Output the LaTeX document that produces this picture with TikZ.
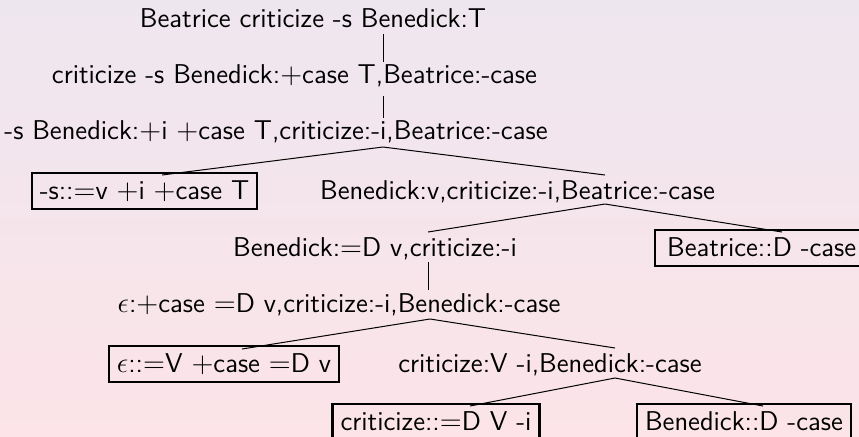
\documentclass[tikz,border=0pt]{standalone}
\usepackage{tikz}
\usepackage{xcolor}
\definecolor{bgtop}{HTML}{EEE6EF}
\definecolor{bgbot}{HTML}{FCE4E8}
% one unit is one pixel of the sheet, y runs downwards
\newcommand{\feat}[1]{$#1$}

\begin{document}
\begin{tikzpicture}[x=0.5pt,y=-0.5pt,
    every node/.style={font=\sffamily\fontsize{13.6}{16}\selectfont,anchor=base,inner sep=0pt},
    lex/.style={draw,line width=1.1pt,inner xsep=4pt,inner ysep=0pt,text height=13pt,text depth=5pt},
    branch/.style={line width=.5pt}]
  \useasboundingbox (0,0) rectangle (859,436);
  \shade [top color=bgtop,bottom color=bgbot] (0,0) rectangle (859,436);
  \clip (0,0) rectangle (859,436);

  % derived items, one row per step
  \node (T) at (313,27) {Beatrice criticize -s Benedick:T};
  \node (caseT) at (294.5,83) {criticize -s Benedick:\feat{+}case T,Beatrice:-case};
  \node (iT) at (276,139) {-s Benedick:\feat{+}i \feat{+}case T,criticize:-i,Beatrice:-case};
  \node[lex] (s) at (144.5,199) {-s::\feat{=}v \feat{+}i \feat{+}case T};
  \node (v) at (517.5,199) {Benedick:v,criticize:-i,Beatrice:-case};
  \node (Dv) at (375,256) {Benedick:\feat{=}D v,criticize:-i};
  \node[lex,anchor=base west,inner xsep=6pt] (Bea) at (654,256) {Beatrice::D -case};
  \node (caseDv) at (339,312) {\feat{\epsilon}:\feat{+}case \feat{=}D v,criticize:-i,Benedick:-case};
  \node[lex] (eps) at (224,372) {\feat{\epsilon}::\feat{=}V \feat{+}case \feat{=}D v};
  \node (V) at (550,372) {criticize:V -i,Benedick:-case};
  \node[lex] (crit) at (436,430) {criticize::\feat{=}D V -i};
  \node[lex] (Ben) at (744,430) {Benedick::D -case};

  % where the branches leave and meet the items
  \coordinate (T-dn) at (383,34);
  \coordinate (caseT-up) at (383,62);
  \coordinate (caseT-dn) at (383,96);
  \coordinate (iT-up) at (383,118);
  \coordinate (iT-dn) at (383,147);
  \coordinate (s-up) at (162,175);
  \coordinate (v-up) at (605,175);
  \coordinate (v-dn) at (605,204);
  \coordinate (Dv-up) at (428,232);
  \coordinate (Bea-up) at (782,232);
  \coordinate (Dv-dn) at (428,262);
  \coordinate (caseDv-up) at (428,290);
  \coordinate (caseDv-dn) at (430,319);
  \coordinate (eps-up) at (242,349);
  \coordinate (V-up) at (615,348);
  \coordinate (V-dn) at (615,378);
  \coordinate (crit-up) at (470,406);
  \coordinate (Ben-up) at (763,406);

  \draw[branch] (T-dn) -- (caseT-up);
  \draw[branch] (caseT-dn) -- (iT-up);
  \draw[branch] (s-up) -- (iT-dn) -- (v-up);
  \draw[branch] (Dv-up) -- (v-dn) -- (Bea-up);
  \draw[branch] (Dv-dn) -- (caseDv-up);
  \draw[branch] (eps-up) -- (caseDv-dn) -- (V-up);
  \draw[branch] (crit-up) -- (V-dn) -- (Ben-up);
\end{tikzpicture}
\end{document}
